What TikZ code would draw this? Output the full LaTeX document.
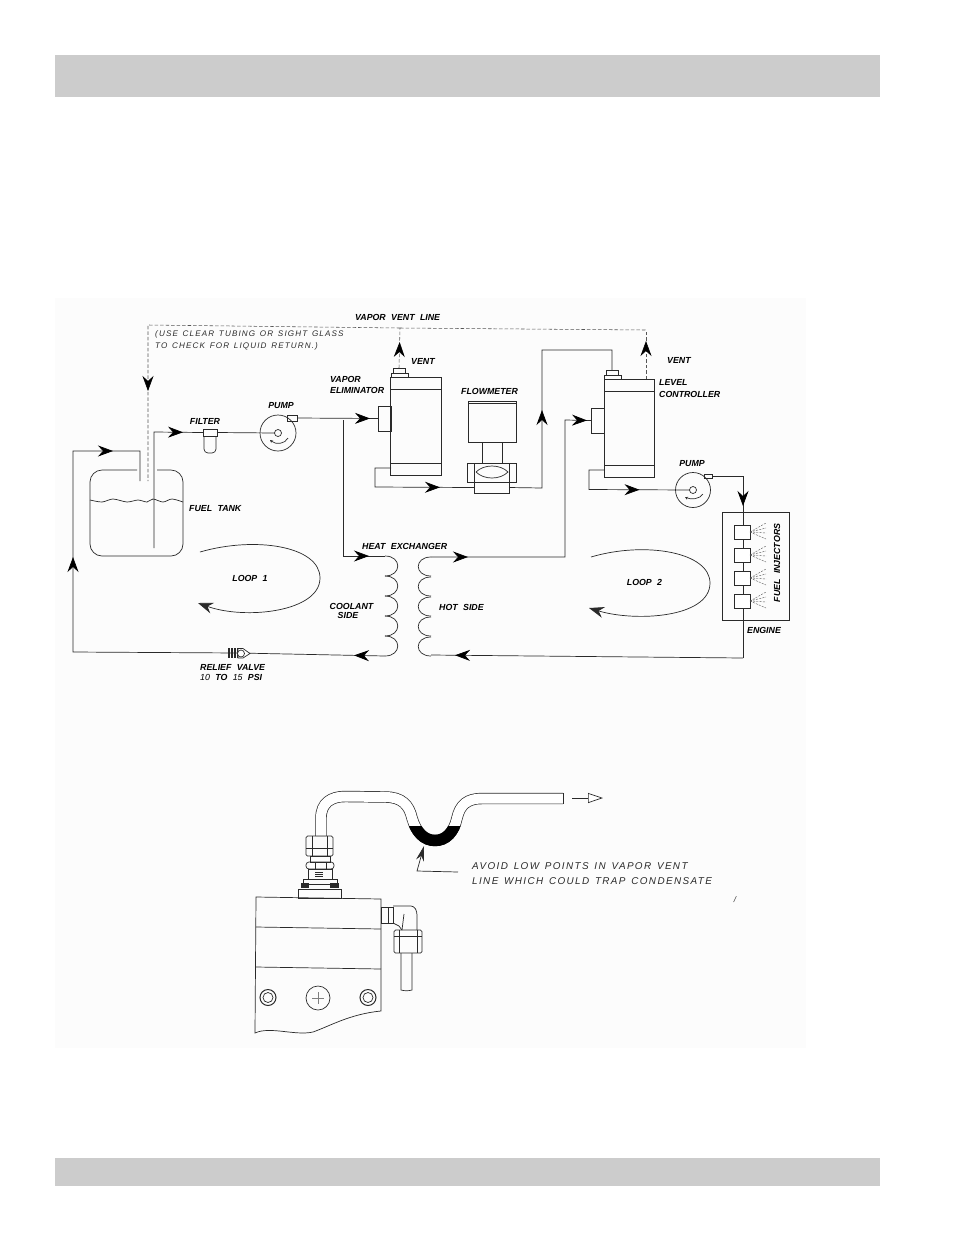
\documentclass[tikz,border=0pt]{standalone}
\usepackage{fontspec}
\usetikzlibrary{arrows.meta,decorations.markings}
\newfontfamily\labelfont[WordSpace=2.2]{Liberation Sans}
\newfontfamily\notefont[LetterSpace=14,WordSpace=1.4]{Liberation Sans}
\definecolor{BandGray}{HTML}{CCCCCC}
\definecolor{ScanWhite}{HTML}{FCFCFC}
\definecolor{InkDark}{HTML}{2A2A2A}
\newcommand{\tubepath}{(321,836) -- (321,818) .. controls (321,803) and (331,796.5) .. (345,796.5) -- (385,797) .. controls (402,797) and (409,805) .. (412,818) .. controls (416,832) and (424,840.5) .. (435,840.5) .. controls (446,840.5) and (454,832) .. (457,818) .. controls (460,805) and (467,798.5) .. (482,798.5) -- (563,798.5)}
\tikzset{
  pipe/.style={draw=InkDark,line width=0.7pt},
  vent/.style={draw=InkDark!80,line width=0.55pt,dash pattern=on 3.5pt off 2pt},
  part/.style={draw=InkDark,line width=0.7pt,inner sep=0pt,outer sep=0pt},
  flowtip/.style={-{Stealth[length=15pt,width=11pt,inset=5pt]}},
  flowat/.style={postaction={decorate,decoration={markings,mark=at position #1 with {\arrow{Stealth[length=15pt,width=11pt,inset=5pt,color=black]}}}}},
  lab/.style={font=\labelfont\bfseries\itshape\fontsize{8.8}{10}\selectfont,text=black,inner sep=0pt,anchor=west},
  note/.style={font=\notefont\itshape\fontsize{8.1}{9}\selectfont,text=InkDark,inner sep=0pt,anchor=west},
  bignote/.style={font=\notefont\itshape\fontsize{9.9}{11}\selectfont,text=InkDark,inner sep=0pt,anchor=west},
  spray/.style={draw=InkDark!80,line width=0.4pt,dash pattern=on 2pt off 1.2pt}
}
\begin{document}
\begin{tikzpicture}[x=1pt,y=-1pt]
    \useasboundingbox (0,0) rectangle (954,1235);
    \fill[BandGray] (55,55) rectangle (880,97);
    \fill[BandGray] (55,1158) rectangle (880,1186);
    \fill[ScanWhite] (55,298) rectangle (806,1048);

    \node[part,minimum width=51pt,minimum height=98pt] (elim) at (415.5,426) {};
    \node[part,minimum width=13pt,minimum height=25pt] (elimin) at (384.5,418.5) {};
    \node[part,minimum width=17pt,minimum height=4pt] (elimtop) at (399.5,375) {};
    \node[part,minimum width=12pt,minimum height=5pt] (elimcap) at (399,370.5) {};
    \node[part,minimum width=50pt,minimum height=98pt] (level) at (629,428) {};
    \node[part,minimum width=13pt,minimum height=25pt] (levelin) at (597.5,420.5) {};
    \node[part,minimum width=17pt,minimum height=4pt] (leveltop) at (612.5,377) {};
    \node[part,minimum width=12pt,minimum height=5pt] (levelcap) at (612,372.5) {};
    \draw[pipe] (elim.west |- 0,389) -- (elim.east |- 0,389);
    \draw[pipe] (elim.west |- 0,463) -- (elim.east |- 0,463);
    \draw[pipe] (level.west |- 0,391) -- (level.east |- 0,391);
    \draw[pipe] (level.west |- 0,465) -- (level.east |- 0,465);

    \node[part,minimum width=48pt,minimum height=41pt] (meterhead) at (492,421.5) {};
    \node[part,minimum width=20pt,minimum height=21pt] (meterstem) at (492,452.5) {};
    \node[part,minimum width=49pt,minimum height=19pt] (meterbody) at (491.5,472.5) {};
    \node[part,minimum width=35pt,minimum height=11pt] (meterbase) at (491.5,487.5) {};
    \draw[pipe] (476,472) .. controls (484,464) and (500,464) .. (508,472) .. controls (500,480) and (484,480) .. (476,472);
    \draw[pipe] (468,403.5) -- (516,403.5);
    \draw[pipe] (474,463) -- (474,482);
    \draw[pipe] (509,463) -- (509,482);

    \node[part,circle,minimum size=36pt] (pumpa) at (278,433) {};
    \node[part,circle,minimum size=7pt] (pumpahub) at (278,433) {};
    \node[part,minimum width=10pt,minimum height=6pt] (pumpaout) at (292,418) {};
    \draw[pipe,-{Stealth[length=3pt,width=3pt]}] (288,438) .. controls (285,444) and (276,445) .. (270,440);
    \node[part,circle,minimum size=35pt] (pumpb) at (693,490) {};
    \node[part,circle,minimum size=7pt] (pumpbhub) at (693,490) {};
    \node[part,minimum width=8pt,minimum height=4pt] (pumpbout) at (708,476) {};
    \draw[pipe,-{Stealth[length=3pt,width=3pt]}] (703,494) .. controls (700,499) and (691,500) .. (685,497);

    \node[part,minimum width=14pt,minimum height=7pt] (filter) at (210,432.5) {};
    \draw[pipe,rounded corners=4pt] (204,436) -- (204,453) -- (216,453) -- (216,436);

    \draw[pipe,rounded corners=12pt] (137,470) -- (90,470) -- (90,556) -- (183,556) -- (183,470) -- (157,470);
    \draw[pipe] plot[smooth] coordinates {(90,500) (102,502) (113,499) (127,502) (138,500) (147,502) (153,499) (163,502) (172,499) (183,502)};
    \coordinate (tankin) at (140,481);
    \coordinate (tankout) at (154,548);
    \coordinate (tankvent) at (148,481);
    \coordinate (ventnw) at (148,325);
    \coordinate (ventne) at (646,330);
    \coordinate (ventmid) at (400,328);
    \coordinate (ventlevel) at (646,379);
    \coordinate (returnsw) at (73,652);
    \coordinate (returnnw) at (73,451);
    \coordinate (coolanttop) at (385,556);
    \coordinate (coolantbot) at (385,656);
    \coordinate (hottop) at (431,557);
    \coordinate (hotbot) at (431,655);
    \coordinate (enginein) at (743,513);
    \coordinate (engineout) at (743,658);

    \draw[vent,flowat=318pt] (ventmid) -- (ventnw) -- (tankvent);
    \draw[vent] (ventmid) -- (ventne);
    \draw[vent,flowat=26pt] (elimcap.north) -- (ventmid);
    \draw[vent,flowat=38pt] (ventlevel) -- (ventne);

    \draw[pipe,flowat=261pt,flowat=407pt] (239,653) -- (returnsw) -- (returnnw) -- (tankin |- returnnw) -- (tankin);
    \draw[pipe,flowat=145pt] (tankout) -- (154,432) -- (filter.west);
    \draw[pipe] (filter.east) -- (pumpahub.west);
    \draw[pipe,flowat=73pt] (pumpaout.east) -- (elimin.west);
    \draw[pipe,flowat=162pt] (343,420) -- (343,556) -- (coolanttop);
    \draw[pipe,flowat=100pt] (391,468) -- (375,468) -- (375,487) -- (meterbase.west);
    \draw[pipe,flowat=111pt] (meterbase.east) -- (542,488) -- (542,350) -- (612,350) -- (levelcap.north);
    \draw[pipe,flowat=37pt,flowat=293pt] (hottop) -- (565,557) -- (565,420) -- (levelin.west);
    \draw[pipe,flowat=85pt] (level.west |- 0,470) -- (589,470) -- (589,489.5) -- (pumpbhub.west);
    \draw[pipe,flowat=61pt] (pumpbout.east) -- (743,476) -- (enginein);
    \draw[pipe] (enginein) -- (engineout);
    \draw[pipe,flowat=288pt] (engineout) -- (hotbot);
    \draw[pipe,flowat=31pt] (coolantbot) -- (239,653);

    \foreach \y in {556,576,596,616,636} {
        \draw[pipe] (385,\y) .. controls (402,\y) and (402,\y+20) .. (385,\y+20);
        \draw[pipe] (431,\y+1) .. controls (414,\y+1) and (414,\y+20) .. (431,\y+20);
    }

    \node[part,minimum width=67pt,minimum height=108pt] (engine) at (755.5,566) {};
    \foreach \n/\y in {1/532,2/555,3/578,4/601} {
        \node[part,fill=white,minimum width=16pt,minimum height=14pt] (inj\n) at (742,\y) {};
        \draw[spray] (inj\n.east) -- ++(16,-9);
        \draw[spray] (inj\n.east) -- ++(16,-4);
        \draw[spray] (inj\n.east) -- ++(16,1);
        \draw[spray] (inj\n.east) -- ++(16,7);
    }

    \node[minimum width=12pt,minimum height=10pt,inner sep=0pt] (relief) at (239,653) {};
    \foreach \x in {228,229.5,...,238} {
        \draw[line width=0.6pt,InkDark] (\x,648) -- (\x,658);
    }
    \draw[part,fill=white] (238,648.5) -- (243,648.5) -- (250,653.5) -- (243,658) -- (238,658) -- cycle;
    \node[part,circle,minimum size=7pt,fill=white] (reliefball) at (241,653.5) {};

    \draw[pipe,flowtip] (200,552) .. controls (255,536) and (320,546) .. (320,578) .. controls (320,612) and (245,620) .. (198,603);
    \draw[pipe,flowtip] (591,557) .. controls (645,541) and (710,552) .. (710,583) .. controls (710,618) and (635,622) .. (589,608);

    \node[lab] (ventlinelabel) at (355,317.5) {VAPOR VENT LINE};
    \node[note] (notea) at (155,334) {(USE CLEAR TUBING OR SIGHT GLASS};
    \node[note] (noteb) at (155,346) {TO CHECK FOR LIQUID RETURN.)};
    \node[lab] (venta) at (411,361) {VENT};
    \node[lab] (ventb) at (667,360) {VENT};
    \node[lab] (elimlabela) at (330,379) {VAPOR};
    \node[lab] (elimlabelb) at (330,390) {ELIMINATOR};
    \node[lab] (meterlabel) at (461,391) {FLOWMETER};
    \node[lab] (levellabela) at (659,382) {LEVEL};
    \node[lab] (levellabelb) at (659,394) {CONTROLLER};
    \node[lab,anchor=center] (filterlabel) at (205,421) {FILTER};
    \node[lab,anchor=center] (pumpalabel) at (281,405.5) {PUMP};
    \node[lab,anchor=center] (pumpblabel) at (692,464) {PUMP};
    \node[lab] (tanklabel) at (189,508.5) {FUEL TANK};
    \node[lab] (hxlabel) at (362,546) {HEAT EXCHANGER};
    \node[lab,anchor=center] (loopa) at (250,578) {LOOP 1};
    \node[lab,anchor=center] (loopb) at (644.5,582) {LOOP 2};
    \node[lab,anchor=center] (coolanta) at (351.5,606) {COOLANT};
    \node[lab,anchor=center] (coolantb) at (348,615.5) {SIDE};
    \node[lab] (hotlabel) at (439,607) {HOT SIDE};
    \node[lab,anchor=center,rotate=90] (injlabel) at (777,563) {FUEL INJECTORS};
    \node[lab,anchor=center] (enginelabel) at (764,630) {ENGINE};
    \node[lab] (relieflabel) at (200,667) {RELIEF VALVE};
    \node[lab] (psilabel) at (200,677.5) {{\mdseries 10} TO {\mdseries 15} PSI};

    \draw[InkDark,line width=0.7pt,double=white,double distance=10pt] \tubepath;
    \begin{scope}
        \clip (400,826) rectangle (470,850);
        \draw[black,line width=11.4pt] \tubepath;
    \end{scope}
    \draw[pipe] (563,793) -- (563,804);
    \coordinate (tubeend) at (572,798);
    \coordinate (tubetip) at (603,798);
    \draw[pipe,-{Triangle[open,length=15pt,width=10pt,fill=white]}] (tubeend) -- (tubetip);

    \coordinate (trapfoot) at (458,872);
    \coordinate (trapbend) at (417,871);
    \coordinate (traptip) at (424,846);
    \draw[pipe,-{Stealth[length=15pt,width=8pt]}] (trapfoot) -- (trapbend) -- (traptip);
    \node[bignote] (trapa) at (472,866.5) {AVOID LOW POINTS IN VAPOR VENT};
    \node[bignote] (trapb) at (472,881.5) {LINE WHICH COULD TRAP CONDENSATE};
    \node[note,anchor=center] (tick) at (735,900) {/};

    \draw[part,rounded corners=1.5pt] (306,836) rectangle (333,856);
    \draw[pipe] (312,836) -- (312,856);
    \draw[pipe] (327,836) -- (327,856);
    \draw[pipe] (306,848) -- (333,848);
    \draw[part] (310,856) rectangle (330,862);
    \draw[part,rounded corners=3pt] (306,862) rectangle (334,869);
    \draw[pipe] (315,862) -- (315,869);
    \draw[pipe] (326,862) -- (326,869);
    \draw[part] (308,869) rectangle (332,879);
    \foreach \y in {872,874,876} {
        \draw[line width=0.5pt,InkDark] (315,\y) -- (323,\y);
    }
    \draw[part] (303,879) rectangle (337,884);
    \fill[InkDark] (301,883) rectangle (309,888);
    \fill[InkDark] (330,883) rectangle (339,888);
    \draw[part] (298,889) rectangle (341,898);

    \draw[pipe] (381,899) -- (256,897) -- (255,1033) .. controls (270,1026) and (295,1036) .. (313,1032) .. controls (330,1026) and (350,1014) .. (381,1011) -- cycle;
    \draw[pipe] (256,927) -- (381,929);
    \draw[pipe] (256,967) -- (381,969);
    \foreach \n/\x in {l/268,r/368} {
        \node[part,circle,minimum size=16pt,line width=1pt] (screw\n) at (\x,997.5) {};
        \node[part,circle,minimum size=10pt] (screwin\n) at (\x,997.5) {};
    }
    \node[part,circle,minimum size=24pt] (screwm) at (318,998) {};
    \draw[draw=InkDark!60,line width=0.4pt] (312,998) -- (324,998);
    \draw[draw=InkDark!60,line width=0.4pt] (318,992) -- (318,1004);

    \draw[part] (381,907) rectangle (393,923);
    \draw[pipe] (388,907) -- (388,923);
    \draw[pipe,rounded corners=3pt] (393,906) -- (414,906) -- (417,912) -- (417,930);
    \draw[pipe] (393,923) -- (399,926) -- (402,930);
    \draw[pipe] (404,914) -- (402,930);
    \draw[part,rounded corners=1.5pt] (394,930) rectangle (422,953);
    \draw[pipe] (399,930) -- (399,953);
    \draw[pipe] (417,930) -- (417,953);
    \draw[pipe] (394,936) -- (422,936);
    \draw[pipe] (401,953) -- (401,990) .. controls (405,991) and (408,991) .. (412,990) -- (412,953);
\end{tikzpicture}
\end{document}
